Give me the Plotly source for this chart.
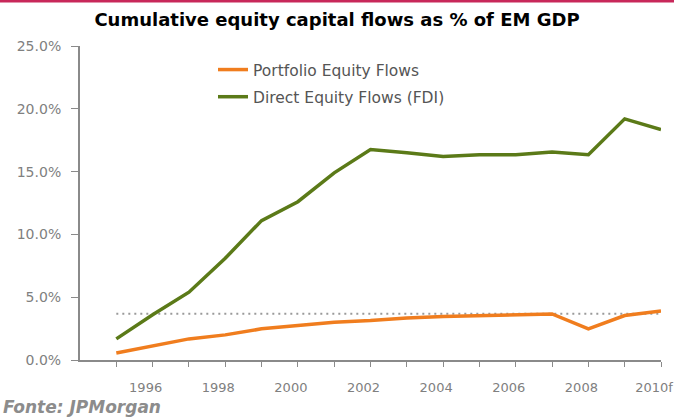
import plotly.graph_objects as go

years = list(range(1995, 2011))
portfolio = [0.56, 1.15, 1.68, 2.0, 2.48, 2.74, 3.0, 3.14, 3.35, 3.46, 3.54, 3.62, 3.67, 2.48, 3.54, 3.9]
fdi = [1.68, 3.6, 5.4, 8.1, 11.1, 12.6, 14.9, 16.75, 16.5, 16.2, 16.35, 16.35, 16.56, 16.35, 19.2, 18.35]
avg_level = 3.68
x_tick_years = list(range(1995, 2011))
x_tick_text = ["", "1996", "", "1998", "", "2000", "", "2002", "", "2004", "", "2006", "", "2008", "", "2010f"]
y_ticks = [0, 5, 10, 15, 20, 25]
y_tick_text = ["0.0%", "5.0%", "10.0%", "15.0%", "20.0%", "25.0%"]

fig = go.Figure()
fig.add_trace(go.Scatter(x=years, y=[avg_level] * len(years), mode="lines",
                         line=dict(color="#9a9a9a", width=2, dash="2px,4px"),
                         showlegend=False, hoverinfo="skip"))
fig.add_trace(go.Scatter(x=years, y=portfolio, mode="lines", name="Portfolio Equity Flows",
                         legendgroup="a", line=dict(color="#f07d1e", width=3.5)))
fig.add_trace(go.Scatter(x=years, y=fdi, mode="lines", name="Direct Equity Flows (FDI)",
                         legendgroup="b", line=dict(color="#5b7a18", width=3.5)))

L, R, T, B = 80, 13, 46, 58.5
W, H = 674, 419
pw, ph = W - L - R, H - T - B

def px_x(p):
    return (p - L) / pw

def px_y(p):
    return (H - B - p) / ph

fig.update_layout(
    width=W, height=H,
    margin=dict(l=L, r=R, t=T, b=B, autoexpand=False),
    paper_bgcolor="white", plot_bgcolor="white",
    font=dict(family="DejaVu Sans", color="#808080", size=13),
    title=dict(text="<b>Cumulative equity capital flows as % of EM GDP</b>",
               x=0.5, xanchor="center", y=1 - 20 / H, yanchor="middle",
               font=dict(family="DejaVu Sans", size=18, color="#000000")),
    legend=dict(x=px_x(213), y=px_y(53), xanchor="left", yanchor="top",
                bgcolor="rgba(0,0,0,0)", font=dict(family="DejaVu Sans", size=15.5, color="#555555"),
                tracegroupgap=4, itemwidth=30),
    showlegend=True,
    xaxis=dict(range=[1994, 2010], tickvals=x_tick_years, ticktext=x_tick_text,
               showgrid=False, zeroline=False, showline=True, linecolor="#8a8a8a", linewidth=2,
               ticks="outside", ticklen=5, tickcolor="#8a8a8a", tickwidth=1, automargin=False,
               ticklabelshift=-7, ticklabelstandoff=9, tickfont=dict(size=13)),
    yaxis=dict(range=[0, 25], tickvals=y_ticks, ticktext=y_tick_text,
               showgrid=False, zeroline=False, showline=True, linecolor="#8a8a8a", linewidth=2,
               ticks="outside", ticklen=7, tickcolor="#8a8a8a", tickwidth=1, automargin=False,
               ticklabelstandoff=7, tickfont=dict(size=14)),
    shapes=[dict(type="line", xref="paper", yref="paper",
                 x0=px_x(0), x1=px_x(W), y0=px_y(1), y1=px_y(1),
                 line=dict(color="#c8285a", width=3))],
    annotations=[dict(text="<i><b>Fonte: JPMorgan</b></i>", xref="paper", yref="paper",
                      x=px_x(1), y=px_y(408), xanchor="left", yanchor="middle",
                      showarrow=False, font=dict(family="DejaVu Sans", size=17, color="#8c8c8c"))],
)

fig.write_html("out.html", config={"displayModeBar": False},
               post_script="document.body.style.margin='0';document.body.style.padding='0';")
